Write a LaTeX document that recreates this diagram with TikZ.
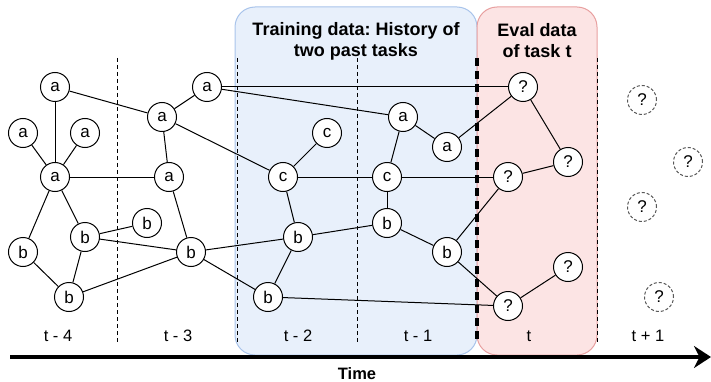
\documentclass[tikz,border=0pt]{standalone}
\usepackage{fontspec}
\setmainfont{Liberation Sans}
\usetikzlibrary{arrows.meta}
\frenchspacing

\definecolor{histfill}{RGB}{232,240,251}
\definecolor{histline}{RGB}{169,196,235}
\definecolor{evalfill}{RGB}{252,228,228}
\definecolor{evalline}{RGB}{232,160,160}

\tikzset{
  task/.style={circle, draw, fill=white, line width=1pt, minimum size=29pt,
    inner sep=0pt, font=\fontsize{17}{17}\selectfont},
  unseen/.style={task, draw=black!65, dash pattern=on 3pt off 2pt},
  link/.style={line width=1pt},
  border/.style={line width=1pt, dash pattern=on 4pt off 3pt},
  period/.style={font=\fontsize{16.5}{16.5}\selectfont},
  header/.style={font=\bfseries\fontsize{18}{21}\selectfont, align=center},
}

\begin{document}
\begin{tikzpicture}[x=1pt, y=-1pt]
  \useasboundingbox (0,0) rectangle (711,382);

  % Data boxes
  \draw[histline, fill=histfill, rounded corners=20pt, line width=1pt] (235,7) rectangle (477,355);
  \draw[evalline, fill=evalfill, rounded corners=20pt, line width=1pt] (477,7) rectangle (597,355);
  \node[header] (hist) at (356,41) {Training data: History of\\two past tasks};
  \node[header] (eval) at (537,41) {Eval data\\of task t};

  % Time steps
  \foreach \x in {117,237,357,597}
    \draw[border] (\x,58) -- (\x,343);
  \draw[line width=4pt, dash pattern=on 8pt off 5pt] (477,58) -- (477,343);
  \node[period] (t_4) at (58,336) {t - 4};
  \node[period] (t_3) at (178,336) {t - 3};
  \node[period] (t_2) at (298,336) {t - 2};
  \node[period] (t_1) at (418,336) {t - 1};
  \node[period] (t_0) at (529,336) {t};
  \node[period] (t_p) at (648,336) {t + 1};

  % Time axis
  \coordinate (start) at (10,357);
  \coordinate (end) at (711,357);
  \draw[line width=4pt, -{Stealth[length=17pt, width=22pt]}] (start) -- (end);
  \node[font=\bfseries\fontsize{16.5}{16.5}\selectfont] (time) at (357,374) {Time};

  % Define nodes
  \node[task] (a_1) at (55,87)  {a};
  \node[task] (a_2) at (23,133) {a};
  \node[task] (a_3) at (85,133) {a};
  \node[task] (a_4) at (55,177) {a};
  \node[task] (b_1) at (23,252) {b};
  \node[task] (b_2) at (85,237) {b};
  \node[task] (b_3) at (69,297) {b};
  \node[task] (b_4) at (147,223) {b};

  \node[task] (a_5) at (207,87)  {a};
  \node[task] (a_6) at (162,117) {a};
  \node[task] (a_7) at (169,177) {a};
  \node[task] (b_5) at (191,252) {b};

  \node[task] (c_1) at (327,133) {c};
  \node[task] (c_2) at (283,177) {c};
  \node[task] (b_6) at (298,237) {b};
  \node[task] (b_7) at (268,297) {b};

  \node[task] (a_8) at (403,117) {a};
  \node[task] (a_9) at (447,147) {a};
  \node[task] (c_3) at (387,177) {c};
  \node[task] (b_8) at (387,223) {b};
  \node[task] (b_9) at (447,252) {b};

  \node[task] (q_1) at (523,87)  {?};
  \node[task] (q_2) at (568,162) {?};
  \node[task] (q_3) at (508,177) {?};
  \node[task] (q_4) at (568,267) {?};
  \node[task] (q_5) at (508,306) {?};

  \node[unseen] (f_1) at (642,100) {?};
  \node[unseen] (f_2) at (688,162) {?};
  \node[unseen] (f_3) at (642,207) {?};
  \node[unseen] (f_4) at (659,297) {?};

  % Connect the nodes
  \draw[link] (a_1) -- (a_4);
  \draw[link] (a_2) -- (a_4);
  \draw[link] (a_3) -- (a_4);
  \draw[link] (a_1) -- (a_6);
  \draw[link] (a_4) -- (a_7);
  \draw[link] (a_4) -- (b_1);
  \draw[link] (a_4) -- (b_2);
  \draw[link] (b_1) -- (b_3);
  \draw[link] (b_2) -- (b_3);
  \draw[link] (b_2) -- (b_4);
  \draw[link] (b_2) -- (b_5);
  \draw[link] (b_3) -- (b_5);

  \draw[link] (a_6) -- (a_5);
  \draw[link] (a_6) -- (a_7);
  \draw[link] (a_6) -- (c_2);
  \draw[link] (a_7) -- (b_5);
  \draw[link] (a_5) -- (a_8);
  \draw[link] (a_5) -- (q_1);
  \draw[link] (b_5) -- (b_6);
  \draw[link] (b_5) -- (b_7);

  \draw[link] (c_1) -- (c_2);
  \draw[link] (c_2) -- (c_3);
  \draw[link] (c_2) -- (b_6);
  \draw[link] (b_6) -- (b_7);
  \draw[link] (b_6) -- (b_8);
  \draw[link] (b_7) -- (q_5);

  \draw[link] (a_8) -- (a_9);
  \draw[link] (a_8) -- (c_3);
  \draw[link] (a_9) -- (q_1);
  \draw[link] (c_3) -- (b_8);
  \draw[link] (c_3) -- (q_3);
  \draw[link] (b_8) -- (b_9);
  \draw[link] (b_9) -- (q_3);
  \draw[link] (b_9) -- (q_5);

  \draw[link] (q_1) -- (q_2);
  \draw[link] (q_3) -- (q_2);
  \draw[link] (q_5) -- (q_4);

\end{tikzpicture}
\end{document}
